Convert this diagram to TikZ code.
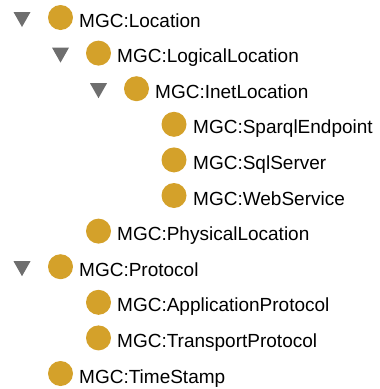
\documentclass[tikz,border=0pt]{standalone}
\usepackage{fontspec}
\setmainfont{Liberation Sans}
\definecolor{gold}{RGB}{212,161,42}
\definecolor{trigray}{RGB}{110,110,110}
\tikzset{
  bullet/.style={circle, fill=gold, draw=none, minimum size=25pt, inner sep=0pt},
  label/.style={anchor=base west, inner sep=0pt, font=\fontsize{19pt}{22pt}\selectfont},
  tri/.style={fill=trigray, draw=none}
}
\newcommand{\mytri}[3]{% name, x, cy
  \fill[tri] (#2-8.5pt,-#3pt+5.5pt) -- (#2+8.5pt,-#3pt+5.5pt) -- (#2,-#3pt-9.5pt) -- cycle;
}
\begin{document}
\begin{tikzpicture}[x=1pt,y=1pt]
\useasboundingbox (0,0) rectangle (380,-389);
% row y centres: 17.5 + 35.6*k
\mytri{t1}{22}{17.5}
\node[bullet] (c1) at (60.5,-17.5) {};
\node[label] (l1) at (79,-27) {MGC:Location};

\mytri{t2}{60.5}{53.1}
\node[bullet] (c2) at (98.5,-53.1) {};
\node[label] (l2) at (117,-62.6) {MGC:LogicalLocation};

\mytri{t3}{98.5}{88.7}
\node[bullet] (c3) at (136.5,-88.7) {};
\node[label] (l3) at (155,-98.2) {MGC:InetLocation};

\node[bullet] (c4) at (174,-124.3) {};
\node[label] (l4) at (193,-133.8) {MGC:SparqlEndpoint};

\node[bullet] (c5) at (174,-159.9) {};
\node[label] (l5) at (193,-169.4) {MGC:SqlServer};

\node[bullet] (c6) at (174,-195.5) {};
\node[label] (l6) at (193,-205) {MGC:WebService};

\node[bullet] (c7) at (98.5,-231.1) {};
\node[label] (l7) at (117,-240.6) {MGC:PhysicalLocation};

\mytri{t8}{22}{266.7}
\node[bullet] (c8) at (60.5,-266.7) {};
\node[label] (l8) at (79,-276.2) {MGC:Protocol};

\node[bullet] (c9) at (98.5,-302.3) {};
\node[label] (l9) at (117,-311.8) {MGC:ApplicationProtocol};

\node[bullet] (c10) at (98.5,-337.9) {};
\node[label] (l10) at (117,-347.4) {MGC:TransportProtocol};

\node[bullet] (c11) at (60.5,-373.5) {};
\node[label] (l11) at (79,-383) {MGC:TimeStamp};
\end{tikzpicture}
\end{document}
